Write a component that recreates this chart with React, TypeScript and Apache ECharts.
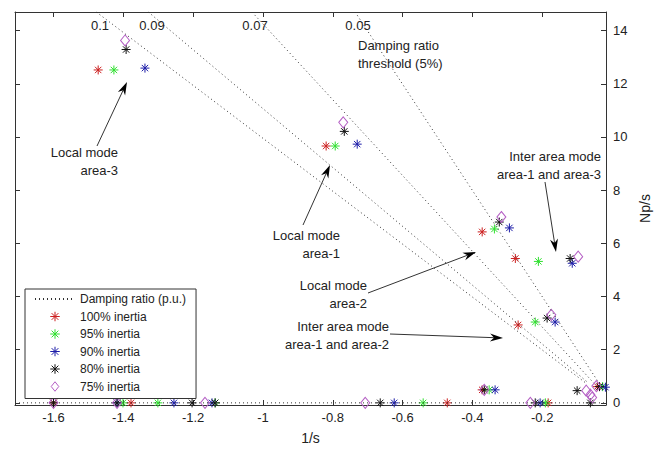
import React, { useEffect, useRef } from 'react';
import * as echarts from 'echarts';

// ---------- data ----------
const dampingRatios = [0.1, 0.09, 0.07, 0.05];
const dampingLabels = ['0.1', '0.09', '0.07', '0.05'];
const dampingLineEndNp = 0.75;

const xTickLabels = ['-1.6', '-1.4', '-1.2', '-1', '-0.8', '-0.6', '-0.4', '-0.2'];
const yTickLabels = ['0', '2', '4', '6', '8', '10', '12', '14'];

const seriesNames = ['100% inertia', '95% inertia', '90% inertia', '80% inertia', '75% inertia'];

const inertia100 = [
  [-1.472, 12.52], [-0.819, 9.66], [-0.372, 6.43], [-0.277, 5.43], [-0.269, 2.93], [-0.372, 0.49], [-0.042, 0.61],
  [-1.6, 0], [-1.378, 0], [-0.472, 0], [-0.183, 0],
];
const inertia95 = [
  [-1.427, 12.52], [-0.793, 9.66], [-0.337, 6.54], [-0.211, 5.32], [-0.22, 3.04], [-0.352, 0.49], [-0.027, 0.61],
  [-1.401, 0], [-1.301, 0], [-1.137, 0], [-0.541, 0], [-0.191, 0],
];
const inertia90 = [
  [-1.338, 12.59], [-0.73, 9.73], [-0.294, 6.58], [-0.114, 5.25], [-0.163, 3.04], [-0.335, 0.49], [-0.019, 0.59],
  [-1.418, 0], [-1.255, 0], [-1.146, 0], [-0.624, 0], [-0.206, 0],
];
const inertia80 = [
  [-1.392, 13.29], [-0.767, 10.21], [-0.323, 6.8], [-0.12, 5.43], [-0.186, 3.19], [-0.366, 0.49], [-0.1, 0.46], [-0.036, 0.61], [-0.062, 0],
  [-1.6, 0], [-1.418, 0], [-1.203, 0], [-1.137, 0], [-0.664, 0], [-0.22, 0],
];
const inertia75 = [
  [-1.395, 13.63], [-0.77, 10.55], [-0.317, 6.99], [-0.097, 5.5], [-0.174, 3.31], [-0.366, 0.49], [-0.074, 0.46], [-0.062, 0.31], [-0.057, 0.2], [-0.045, 0.63],
  [-1.6, 0], [-1.418, 0], [-1.166, 0], [-0.707, 0], [-0.234, 0],
];
const seriesData = [inertia100, inertia95, inertia90, inertia80, inertia75];

// ---------- styles / layout ----------
const X_MIN = -1.7103;
const X_MAX = -0.0173;
const Y_MIN = -0.08;
const Y_MAX = 14.7;
const FONT = "'Liberation Sans', Arial, Helvetica, sans-serif";
const TXT = '#222';
const AXIS = '#333';
const colors = ['#cc1f1f', '#2ee02e', '#1c1ca8', '#111111', '#b45ec4'];
const ASTERISK = 'path://M5,0L5,10M0,5L10,5M1.46,1.46L8.54,8.54M1.46,8.54L8.54,1.46';
const DIAMOND = 'path://M4,0L8,5L4,10L0,5Z';
const symbols = [ASTERISK, ASTERISK, ASTERISK, ASTERISK, DIAMOND];
const symbolSizes: any[] = [9, 9, 9, 9, [9, 11]];
const DAMP_NAME = 'Damping ratio (p.u.)';

const annotationTexts = [
  { x: 118, y: 143, text: 'Local mode\narea-3', align: 'right' },
  { x: 340, y: 226, text: 'Local mode\narea-1', align: 'right' },
  { x: 367, y: 276, text: 'Local mode\narea-2', align: 'right' },
  { x: 389, y: 317, text: 'Inter area mode\narea-1 and area-2', align: 'right' },
  { x: 601, y: 147, text: 'Inter area mode\narea-1 and area-3', align: 'right' },
  { x: 358, y: 36, text: 'Damping ratio\nthreshold (5%)', align: 'left' },
];
const dampingLabelPos = [[100, 25], [152, 25], [255, 25], [358, 25]];
const arrows = [
  { tail: [97, 146], tip: [127, 82] },
  { tail: [303, 225], tip: [330, 165] },
  { tail: [368, 293], tip: [476, 252] },
  { tail: [390, 334], tip: [503, 338] },
  { tail: [545, 182], tip: [556, 252] },
];

function tickFormatter(labels: string[]) {
  return (v: number) => {
    const hit = labels.find((l) => Math.abs(parseFloat(l) - v) < 1e-6);
    return hit !== undefined ? hit : '';
  };
}

function buildGraphic() {
  const g: any[] = [];
  annotationTexts.forEach((a) => {
    g.push({
      type: 'text', x: a.x, y: a.y, z: 100, silent: true,
      style: { text: a.text, align: a.align, verticalAlign: 'top', lineHeight: 18, fill: TXT, font: `13px ${FONT}` },
    });
  });
  dampingLabels.forEach((t, i) => {
    g.push({
      type: 'text', x: dampingLabelPos[i][0], y: dampingLabelPos[i][1], z: 100, silent: true,
      style: { text: t, align: 'center', verticalAlign: 'middle', fill: TXT, font: `13px ${FONT}` },
    });
  });
  arrows.forEach((a) => {
    const [x1, y1] = a.tail;
    const [x2, y2] = a.tip;
    const dx = x2 - x1, dy = y2 - y1;
    const len = Math.hypot(dx, dy);
    const ux = dx / len, uy = dy / len;
    const px = -uy, py = ux;
    const L = 13, W = 4, N = 9;
    g.push({
      type: 'line', z: 100, silent: true,
      shape: { x1, y1, x2: x2 - ux * N, y2: y2 - uy * N },
      style: { stroke: '#333', lineWidth: 1 },
    });
    g.push({
      type: 'polygon', z: 101, silent: true,
      shape: {
        points: [
          [x2, y2],
          [x2 - ux * L + px * W, y2 - uy * L + py * W],
          [x2 - ux * N, y2 - uy * N],
          [x2 - ux * L - px * W, y2 - uy * L - py * W],
        ],
      },
      style: { fill: '#000' },
    });
  });
  return g;
}

export default function App() {
  const ref = useRef<HTMLDivElement>(null);
  useEffect(() => {
    if (!ref.current) return;
    const chart = echarts.init(ref.current, null, { renderer: 'svg' });

    const dampLine = { color: '#333', width: 1, type: [1, 3] };
    const dampSeries: any[] = dampingRatios.map((z) => {
      const k = z / Math.sqrt(1 - z * z);
      return {
        type: 'line', name: DAMP_NAME, xAxisIndex: 0, yAxisIndex: 0,
        data: [[-Y_MAX * k, Y_MAX], [-dampingLineEndNp * k, dampingLineEndNp]],
        symbol: 'none', silent: true, clip: true, color: '#333',
        lineStyle: dampLine,
      };
    });
    // damping ratio = 1 (real axis)
    dampSeries.push({
      type: 'line', name: DAMP_NAME, xAxisIndex: 0, yAxisIndex: 0,
      data: [[X_MIN, 0], [0, 0]],
      symbol: 'none', silent: true, clip: true, color: '#333',
      lineStyle: dampLine,
    });

    const scatterSeries = seriesNames.map((n, i) => ({
      type: 'scatter', name: n, xAxisIndex: 0, yAxisIndex: 0,
      data: seriesData[i],
      symbol: symbols[i], symbolSize: symbolSizes[i], silent: true, clip: false,
      itemStyle: { color: 'rgba(0,0,0,0)', borderColor: colors[i], borderWidth: 1, opacity: 1 },
    }));

    const commonX = {
      type: 'value', min: X_MIN, max: X_MAX, minInterval: 0.2, maxInterval: 0.2,
      splitLine: { show: false },
      axisLine: { show: true, onZero: false, lineStyle: { color: AXIS, width: 1 } },
      axisTick: { show: true, inside: true, length: 5, lineStyle: { color: AXIS } },
    };
    const commonY = {
      type: 'value', min: Y_MIN, max: Y_MAX, minInterval: 2, maxInterval: 2,
      splitLine: { show: false },
      axisLine: { show: true, onZero: false, lineStyle: { color: AXIS, width: 1 } },
      axisTick: { show: true, inside: true, length: 5, lineStyle: { color: AXIS } },
    };

    chart.setOption({
      animation: false,
      backgroundColor: '#fff',
      grid: { left: 15, right: 56, top: 12, bottom: 39.5, containLabel: false },
      xAxis: [
        {
          ...commonX, position: 'bottom',
          axisLabel: { margin: 6, color: TXT, fontSize: 13, fontFamily: FONT, formatter: tickFormatter(xTickLabels) },
          name: '1/s', nameLocation: 'middle', nameGap: 26,
          nameTextStyle: { color: TXT, fontSize: 14, fontFamily: FONT },
        },
        { ...commonX, position: 'top', axisLabel: { show: false } },
      ],
      yAxis: [
        {
          ...commonY, position: 'right',
          axisLabel: { margin: 7, color: TXT, fontSize: 13, fontFamily: FONT, formatter: tickFormatter(yTickLabels) },
          name: 'Np/s', nameLocation: 'middle', nameRotate: 90, nameGap: 22,
          nameTextStyle: { color: TXT, fontSize: 14, fontFamily: FONT },
        },
        { ...commonY, position: 'left', axisLabel: { show: false } },
      ],
      legend: {
        data: [
          { name: DAMP_NAME, itemStyle: { opacity: 0, borderWidth: 0 } },
          ...seriesNames.map((n) => ({ name: n, itemStyle: { borderWidth: 1 } })),
        ],
        orient: 'vertical', left: 25, top: 289,
        padding: [4, 10, 6, 9], itemGap: 5.5, itemWidth: 40, itemHeight: 9.5,
        backgroundColor: '#fff', borderColor: '#333', borderWidth: 1, borderRadius: 0,
        selectedMode: false, z: 50,
        textStyle: { color: TXT, fontSize: 12, fontFamily: FONT },
      },
      series: [...dampSeries, ...scatterSeries],
      graphic: buildGraphic(),
    });

    return () => chart.dispose();
  }, []);

  return (
    <div
      ref={ref}
      style={{ position: 'absolute', left: 0, top: 0, width: 662, height: 450, background: '#fff' }}
    />
  );
}
